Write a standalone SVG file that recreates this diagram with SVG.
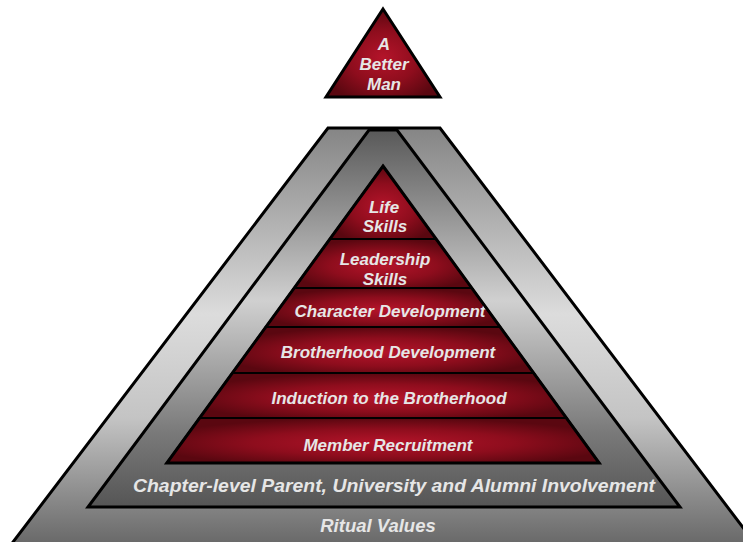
<svg xmlns="http://www.w3.org/2000/svg" width="743" height="542" viewBox="0 0 743 542">
  <style>
    .lbl { font-family: "Liberation Sans", Arial, sans-serif; font-weight: bold; font-style: italic; fill: #e6e6e6; text-anchor: middle; }
    .red { font-size: 17px; }
    .edge { stroke: #000; stroke-width: 3; stroke-linejoin: miter; }
    .band { stroke: #000; stroke-width: 2; }
  </style>
  <defs>
    <linearGradient id="gOuter" gradientUnits="userSpaceOnUse" x1="0" y1="128" x2="0" y2="542">
      <stop offset="0" stop-color="#858585"/>
      <stop offset="0.45" stop-color="#dcdcdc"/>
      <stop offset="0.7" stop-color="#c4c4c4"/>
      <stop offset="1" stop-color="#6a6a6a"/>
    </linearGradient>
    <linearGradient id="gMiddle" gradientUnits="userSpaceOnUse" x1="0" y1="132" x2="0" y2="507">
      <stop offset="0" stop-color="#5a5a5a"/>
      <stop offset="0.45" stop-color="#d0d0d0"/>
      <stop offset="0.8" stop-color="#7a7a7a"/>
      <stop offset="1" stop-color="#555555"/>
    </linearGradient>
    <radialGradient id="gRed" cx="0.5" cy="0.55" r="0.55">
      <stop offset="0" stop-color="#b4142a"/>
      <stop offset="0.55" stop-color="#8e0d1d"/>
      <stop offset="1" stop-color="#5a0710"/>
    </radialGradient>
  </defs>

  <!-- Ritual Values: outer grey frame -->
  <g id="ritual-values">
    <polygon class="edge" fill="url(#gOuter)" points="328,128 440,128 757,546 10,546"/>
    <text class="lbl" x="378" y="532" font-size="18.5">Ritual Values</text>
  </g>

  <!-- Chapter-level involvement: middle grey frame -->
  <g id="chapter-involvement">
    <polygon class="edge" fill="url(#gMiddle)" points="369,130 397,130 680,507 88,507"/>
    <text class="lbl" x="394" y="492" font-size="17.5" textLength="522" lengthAdjust="spacingAndGlyphs">Chapter-level Parent, University and Alumni Involvement</text>
  </g>

  <!-- Red pyramid bands, bottom to top -->
  <g id="member-recruitment">
    <polygon class="band" fill="url(#gRed)" points="199.5,418 566.5,418 599.2,463 166.8,463"/>
    <text class="lbl red" x="388" y="451">Member Recruitment</text>
  </g>
  <g id="induction">
    <polygon class="band" fill="url(#gRed)" points="232.3,373 533.7,373 566.5,418 199.5,418"/>
    <text class="lbl red" x="389" y="404">Induction to the Brotherhood</text>
  </g>
  <g id="brotherhood-development">
    <polygon class="band" fill="url(#gRed)" points="265.8,327 500.2,327 533.7,373 232.3,373"/>
    <text class="lbl red" x="388" y="358">Brotherhood Development</text>
  </g>
  <g id="character-development">
    <polygon class="band" fill="url(#gRed)" points="294.2,288 471.8,288 500.2,327 265.8,327"/>
    <text class="lbl red" x="390" y="317">Character Development</text>
  </g>
  <g id="leadership-skills">
    <polygon class="band" fill="url(#gRed)" points="329.9,239 436.1,239 471.8,288 294.2,288"/>
    <text class="lbl red" x="385" y="265">Leadership</text>
    <text class="lbl red" x="385" y="285">Skills</text>
  </g>
  <g id="life-skills">
    <polygon class="band" fill="url(#gRed)" points="383,166 436.1,239 329.9,239"/>
    <text class="lbl red" x="384" y="213">Life</text>
    <text class="lbl red" x="385" y="232">Skills</text>
  </g>
  <!-- outline of the whole red pyramid -->
  <polygon class="edge" fill="none" points="383,166 599.2,463 166.8,463"/>

  <!-- Apex: A Better Man -->
  <g id="a-better-man">
    <polygon class="edge" fill="url(#gRed)" points="383,9 440,97 326,97"/>
    <text class="lbl red" x="384" y="50">A</text>
    <text class="lbl red" x="384" y="70">Better</text>
    <text class="lbl red" x="384" y="90">Man</text>
  </g>
</svg>
